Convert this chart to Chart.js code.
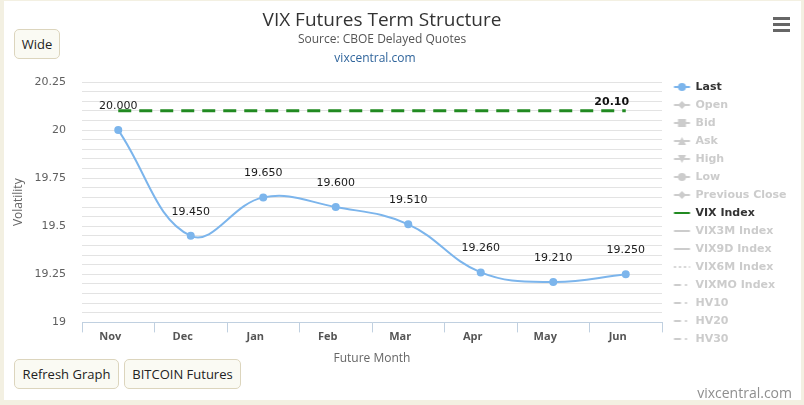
<!DOCTYPE html>
<html>
<head>
<meta charset="utf-8">
<script src="https://cdn.jsdelivr.net/npm/chart.js@4.4.1/dist/chart.umd.min.js"></script>
<style>
  html, body { margin: 0; padding: 0; background: #f3f0e2; }
  #wrap { position: relative; width: 804px; height: 405px; overflow: hidden; }
  #panel { position: absolute; left: 4px; top: 1px; width: 797px; height: 399px; background: #ffffff; }
  #chart { position: absolute; left: -36px; top: 0; width: 836px; height: 405px; }
  .btn { position: absolute; box-sizing: border-box; height: 30px; border: 1px solid #dcd5bd; border-radius: 5px;
         background: #fafaf3; font: 13px 'Open Sans', sans-serif; color: #222; text-align: center; line-height: 28px; }
  #link { position: absolute; top: 49px; left: 300px; width: 150px; text-align: center; font: 12px 'Open Sans', sans-serif; color: #30659c; }
  #credit { position: absolute; right: 12px; top: 383px; font: 14px 'Open Sans', sans-serif; color: #8f8f8f; }
  .bar { position: absolute; left: 773px; width: 17px; height: 3px; background: #666; }
</style>
</head>
<body>
<div id="wrap">
  <div id="panel"></div>
  <canvas id="chart" width="836" height="405"></canvas>
  <div id="link">vixcentral.com</div>
  <div class="btn" style="left:14px;top:29px;width:46px;">Wide</div>
  <div class="btn" style="left:14px;top:359px;width:105px;">Refresh Graph</div>
  <div class="btn" style="left:124px;top:359px;width:117px;">BITCOIN Futures</div>
  <div id="credit">vixcentral.com</div>
  <div class="bar" style="top:17px"></div>
  <div class="bar" style="top:23px"></div>
  <div class="bar" style="top:29px"></div>
</div>
<script>
// ---- data ----
const months = ['Nov', 'Dec', 'Jan', 'Feb', 'Mar', 'Apr', 'May', 'Jun'];
const lastValues = [20.00, 19.45, 19.65, 19.60, 19.51, 19.26, 19.21, 19.25];
const vixIndexValues = [20.10, 20.10, 20.10, 20.10, 20.10, 20.10, 20.10, 20.10];
const yTickLabels = [19, 19.25, 19.5, 19.75, 20, 20.25];
const hiddenBefore = ['Open', 'Bid', 'Ask', 'High', 'Low', 'Previous Close'];
const hiddenAfter = ['VIX3M Index', 'VIX9D Index', 'VIX6M Index', 'VIXMO Index', 'HV10', 'HV20', 'HV30'];

// ---- legend icons ----
const markerFor = { 'Last': 'circle', 'Open': 'diamond', 'Bid': 'square', 'Ask': 'triangle', 'High': 'triangleDown',
  'Low': 'circle', 'Previous Close': 'diamond' };
const dashFor = { 'VIX6M Index': [2, 3], 'VIXMO Index': [7, 4, 2, 4], 'HV10': [7, 4, 2, 4], 'HV20': [7, 4, 2, 4], 'HV30': [7, 4, 2, 4] };
function legendIcon(name, color) {
  const c = document.createElement('canvas');
  c.width = 40; c.height = 12;
  const g = c.getContext('2d');
  g.strokeStyle = color; g.fillStyle = color;
  g.lineWidth = 2;
  const x0 = 14.5, x1 = 30.5, cx = 22.5, cy = 6;
  if (dashFor[name]) g.setLineDash(dashFor[name]);
  g.beginPath(); g.moveTo(x0, cy); g.lineTo(x1, cy); g.stroke();
  g.setLineDash([]);
  const m = markerFor[name];
  g.beginPath();
  if (m === 'circle') { g.arc(cx, cy, 4, 0, Math.PI * 2); }
  else if (m === 'square') { g.rect(cx - 4, cy - 4, 8, 8); }
  else if (m === 'diamond') { g.moveTo(cx, cy - 4); g.lineTo(cx + 4, cy); g.lineTo(cx, cy + 4); g.lineTo(cx - 4, cy); g.closePath(); }
  else if (m === 'triangle') { g.moveTo(cx, cy - 4); g.lineTo(cx + 4, cy + 4); g.lineTo(cx - 4, cy + 4); g.closePath(); }
  else if (m === 'triangleDown') { g.moveTo(cx - 4, cy - 4); g.lineTo(cx + 4, cy - 4); g.lineTo(cx, cy + 4); g.closePath(); }
  if (m) g.fill();
  return c;
}

const datasets = [];
datasets.push({ label: 'Last', data: lastValues, borderColor: '#7cb5ec', backgroundColor: '#7cb5ec',
  borderWidth: 2, pointRadius: 4, pointHoverRadius: 4, pointBorderWidth: 0, pointBackgroundColor: '#7cb5ec',
  tension: 0.4, fill: false, order: 2 });
hiddenBefore.forEach(n => datasets.push({ label: n, data: [], hidden: true }));
datasets.push({ label: 'VIX Index', data: vixIndexValues, borderColor: '#218a21', backgroundColor: '#218a21',
  borderWidth: 3, borderDash: [13, 8], pointRadius: 0, tension: 0, fill: false, order: 1 });
hiddenAfter.forEach(n => datasets.push({ label: n, data: [], hidden: true }));

const dataLabels = {
  id: 'dataLabels',
  afterDatasetsDraw(chart) {
    const ctx = chart.ctx;
    ctx.save();
    ctx.textAlign = 'center';
    ctx.textBaseline = 'middle';
    const m0 = chart.getDatasetMeta(0);
    ctx.font = '11px "DejaVu Sans", sans-serif';
    ctx.fillStyle = '#1a1a1a';
    m0.data.forEach((pt, i) => {
      ctx.fillText(lastValues[i].toFixed(3), pt.x, pt.y - 24);
    });
    const vi = chart.data.datasets.findIndex(d => d.label === 'VIX Index');
    const mv = chart.getDatasetMeta(vi);
    const lastPt = mv.data[mv.data.length - 1];
    ctx.font = 'bold 11px "DejaVu Sans", sans-serif';
    ctx.fillStyle = '#111';
    ctx.fillText(vixIndexValues[vixIndexValues.length - 1].toFixed(2), lastPt.x - 14, lastPt.y - 9);
    ctx.restore();
  }
};

// keep the legend column a fixed width so the plot ends where the reference's does
const legendWidth = {
  id: 'legendWidth',
  beforeLayout(chart) {
    const lg = chart.legend;
    if (lg && !lg._fixedWidth) {
      const fit = lg.fit.bind(lg);
      lg.fit = function () { fit(); this.width = 138; };
      lg._fixedWidth = true;
    }
  }
};

new Chart(document.getElementById('chart'), {
  type: 'line',
  data: { labels: months, datasets },
  plugins: [dataLabels, legendWidth],
  options: {
    responsive: false,
    animation: false,
    events: [],
    layout: { padding: { left: 0, right: 0, top: 0, bottom: 39 } },
    plugins: {
      tooltip: { enabled: false },
      title: { display: true, text: 'VIX Futures Term Structure', color: '#333333',
        font: { family: "'Open Sans', sans-serif", size: 19, weight: 'normal', lineHeight: 1.2 },
        padding: { top: 9.5, bottom: 0 } },
      subtitle: { display: true, text: 'Source: CBOE Delayed Quotes', color: '#555555',
        font: { family: "'Open Sans', sans-serif", size: 12, weight: 'normal', lineHeight: 1.2 },
        padding: { top: 0, bottom: 35.3 } },
      legend: {
        display: true, position: 'right', align: 'start', fullSize: true,
        title: { display: true, text: '', font: { size: 1, lineHeight: 1 }, padding: { top: 73.5, bottom: 0 } },
        labels: {
          usePointStyle: true, pointStyleWidth: 21, padding: 7,
          font: { family: "'DejaVu Sans', sans-serif", size: 11, weight: 'bold' },
          generateLabels(chart) {
            return chart.data.datasets.map((ds, i) => {
              const active = !ds.hidden;
              const col = active ? (ds.borderColor) : '#cccccc';
              return { text: ds.label, fillStyle: 'rgba(0,0,0,0)', strokeStyle: 'rgba(0,0,0,0)', lineWidth: 0,
                pointStyle: legendIcon(ds.label, col), hidden: false,
                fontColor: active ? '#333333' : '#cccccc', datasetIndex: i };
            });
          }
        }
      }
    },
    scales: {
      x: {
        type: 'category', offset: true,
        grid: { display: true, offset: true, drawOnChartArea: false, drawTicks: true, tickLength: 10, color: '#c0d0e0' },
        border: { display: true, color: '#c0d0e0', width: 1 },
        ticks: { color: '#555555', padding: -2, labelOffset: -8,
          font: { family: "'Open Sans', sans-serif", size: 11, weight: 'bold' } },
        title: { display: true, text: 'Future Month', color: '#666666',
          font: { family: "'Open Sans', sans-serif", size: 12 }, padding: { top: 10, bottom: 0 } }
      },
      y: {
        min: 19, max: 20.25,
        afterFit(scale) { scale.width = 118; },
        grid: { color: '#e3e3e3', drawTicks: false, lineWidth: 1 },
        border: { display: false },
        ticks: { stepSize: 0.05, padding: 16, color: '#606060', autoSkip: false,
          font: { family: "'DejaVu Sans', sans-serif", size: 11 },
          callback(v) {
            const hit = yTickLabels.find(t => Math.abs(t - v) < 1e-6);
            return hit === undefined ? '' : String(hit);
          } },
        title: { display: true, text: 'Volatility', color: '#666666',
          font: { family: "'Open Sans', sans-serif", size: 12 }, padding: { top: 47, bottom: 0 } }
      }
    }
  }
});
</script>
</body>
</html>
